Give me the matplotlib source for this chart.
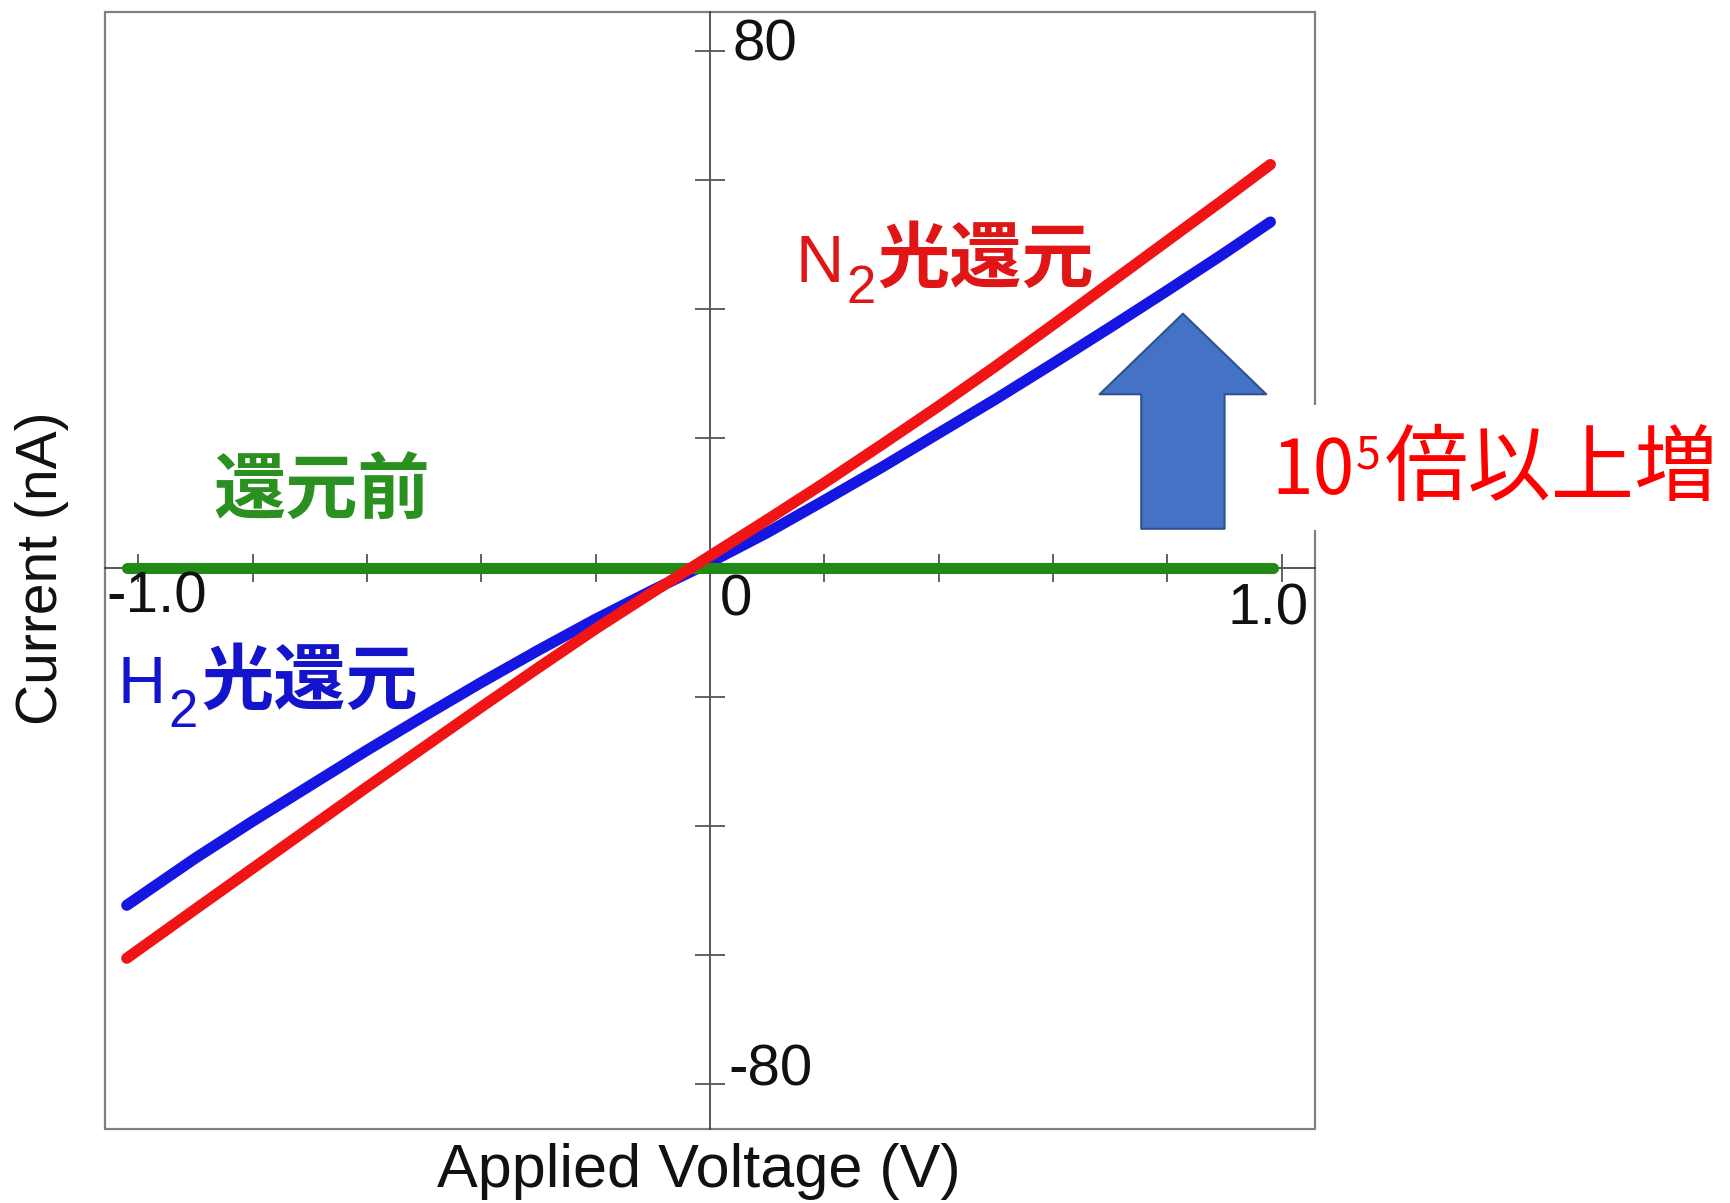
import matplotlib
matplotlib.use("Agg")
import matplotlib.pyplot as plt
from matplotlib.patches import Rectangle
from matplotlib.transforms import IdentityTransform

# ---------------- data ----------------
VOLTAGE = [-1.02, -0.9, -0.8, -0.7, -0.6, -0.5, -0.4, -0.3, -0.2, -0.1, 0.0,
           0.1, 0.2, 0.3, 0.4, 0.5, 0.6, 0.7, 0.8, 0.9, 0.98]
I_N2 = [-60.5, -52.9, -46.6, -40.3, -34.0, -27.8, -21.6, -15.5, -9.5, -3.8, 1.8,
        7.4, 13.1, 19.0, 25.0, 31.2, 37.6, 44.1, 50.6, 57.1, 62.4]
I_H2 = [-52.3, -45.0, -39.3, -33.8, -28.3, -23.0, -17.8, -12.8, -8.0, -3.5, 0.8,
        5.4, 10.4, 15.5, 20.8, 26.1, 31.6, 37.2, 42.9, 48.7, 53.5]
V_BEFORE = [-1.02, 0.985]
I_BEFORE = [0.0, 0.0]

X_TICKS = [-1.0, -0.8, -0.6, -0.4, -0.2, 0.2, 0.4, 0.6, 0.8, 1.0]
Y_TICKS = [-80, -60, -40, -20, 20, 40, 60, 80]
X_TICK_LABELS = ["-1.0", "0", "1.0"]
X_TICK_LABEL_POS = [-1.0, 0.0, 1.0]
Y_TICK_LABELS = ["80", "-80"]
Y_TICK_LABEL_POS = [80, -80]

XLABEL = "Applied Voltage (V)"
YLABEL = "Current (nA)"
LABEL_N2 = ["N", "2", "光還元"]
LABEL_H2 = ["H", "2", "光還元"]
LABEL_BEFORE = "還元前"
ANNOT = ["10", "5", "倍以上増"]

# ---------------- figure ----------------
W, H = 1731, 1203
fig = plt.figure(figsize=(W / 100, H / 100), dpi=100)
fig.patch.set_facecolor("white")

LATIN = ["Liberation Sans", "DejaVu Sans"]
CJK = ["Noto Sans CJK JP", "DejaVu Sans"]

ax = fig.add_axes([105 / W, (H - 1129.4) / H, 1210 / W, 1117.3 / H])
ax.set_xlim(-1.058, 1.058)
ax.set_ylim(-87.0, 86.0)

RED = "#f01414"
BLUE = "#1616e2"
GREEN = "#218a17"

ax.plot(VOLTAGE, I_H2, color=BLUE, lw=8, solid_capstyle="round",
        solid_joinstyle="round", zorder=2)
ax.plot(V_BEFORE, I_BEFORE, color=GREEN, lw=8, solid_capstyle="round", zorder=3)
ax.plot(VOLTAGE, I_N2, color=RED, lw=8, solid_capstyle="round",
        solid_joinstyle="round", zorder=4)

# axes through origin
for s in ("top", "right"):
    ax.spines[s].set_visible(False)
ax.spines["left"].set_position(("data", 0))
ax.spines["bottom"].set_position(("data", 0))
for s in ("left", "bottom"):
    ax.spines[s].set_color("#3a3a3a")
    ax.spines[s].set_linewidth(1.2)
    ax.spines[s].set_zorder(1)
ax.add_patch(Rectangle((0, 0), 1, 1, transform=ax.transAxes, fill=False,
                       ec="#808080", lw=1.6, clip_on=False, zorder=1))

ax.set_xticks(X_TICKS)
ax.set_yticks(Y_TICKS)
ax.tick_params(axis="x", direction="inout", length=20, width=1.3, color="#555555",
               labelbottom=False)
ax.tick_params(axis="y", direction="inout", length=22, width=1.3, color="#555555",
               labelleft=False)

# tick labels
x_off = [(19, -29.5), (25.5, -32.5), (-13.5, -41.5)]
for v, lab, (dx, dy) in zip(X_TICK_LABEL_POS, X_TICK_LABELS, x_off):
    ax.annotate(lab, xy=(v, 0), xytext=(dx, dy), textcoords="offset pixels",
                ha="center", va="center", fontsize=42, family=LATIN,
                color="#111111", annotation_clip=False)
y_off = [(23, 5.8), (18, 14)]
for v, lab, (dx, dy) in zip(Y_TICK_LABEL_POS, Y_TICK_LABELS, y_off):
    ax.annotate(lab, xy=(0, v), xytext=(dx, dy), textcoords="offset pixels",
                ha="left", va="center", fontsize=42, family=LATIN,
                color="#111111", annotation_clip=False)

# axis labels
fig.text(699, H - 1172, XLABEL, transform=IdentityTransform(), ha="center",
         va="center", fontsize=44, family=LATIN, color="#111111")
fig.text(42, H - 568, YLABEL, transform=IdentityTransform(), ha="center",
         va="center", rotation=90, fontsize=41, family=LATIN, color="#111111")

# arrow
ax.annotate("", xy=(0.827, 39.3), xytext=(0.827, 6.0),
            arrowprops=dict(arrowstyle="simple,head_length=58,head_width=120,tail_width=60",
                            mutation_scale=1, fc="#4472C4", ec="#2F528F", lw=1.5,
                            shrinkA=0, shrinkB=0), zorder=5)

renderer = fig.canvas.get_renderer()


def rich(anchor, pieces):
    x, y = ax.transData.transform(anchor)
    cx = x
    for s, dy, gap, kw in pieces:
        t = fig.text(cx, y + dy, s, transform=IdentityTransform(), ha="left",
                     va="baseline", zorder=6, **kw)
        bb = t.get_window_extent(renderer)
        cx = bb.x1 + gap


rich((0.1495, 44.25), [
    (LABEL_N2[0], 0, 2.6, dict(fontsize=48, family=LATIN, color="#e01515")),
    (LABEL_N2[1], -21.3, 1.6, dict(fontsize=38, family=LATIN, color="#e01515")),
    (LABEL_N2[2], 0, 0, dict(fontsize=52, family=CJK, weight="bold", color="#e01515")),
])
rich((-1.036, -21.0), [
    (LABEL_H2[0], 0, 3.0, dict(fontsize=48, family=LATIN, color="#1414cc")),
    (LABEL_H2[1], -23.5, 3.4, dict(fontsize=38, family=LATIN, color="#1414cc")),
    (LABEL_H2[2], 0, 0, dict(fontsize=52, family=CJK, weight="bold", color="#1414cc")),
])
rich((-0.869, 8.3), [
    (LABEL_BEFORE, 0, 0, dict(fontsize=52, family=CJK, weight="bold", color="#2a9020")),
])

# white box behind the annotation (interrupts the frame)
fig.add_artist(Rectangle((1272, H - 530), W - 1272, 125, transform=IdentityTransform(),
                         fc="white", ec="none", zorder=2))
rich((0.982, 11.38), [
    (ANNOT[0], 0, 0.5, dict(fontsize=54, family=CJK, color="#ff0000")),
    (ANNOT[1], 26, 4.5, dict(fontsize=32, family=CJK, color="#ff0000")),
    (ANNOT[2], 0, 0, dict(fontsize=60, family=CJK, color="#ff0000")),
])

fig.savefig("out.png", dpi=100, facecolor="white")
